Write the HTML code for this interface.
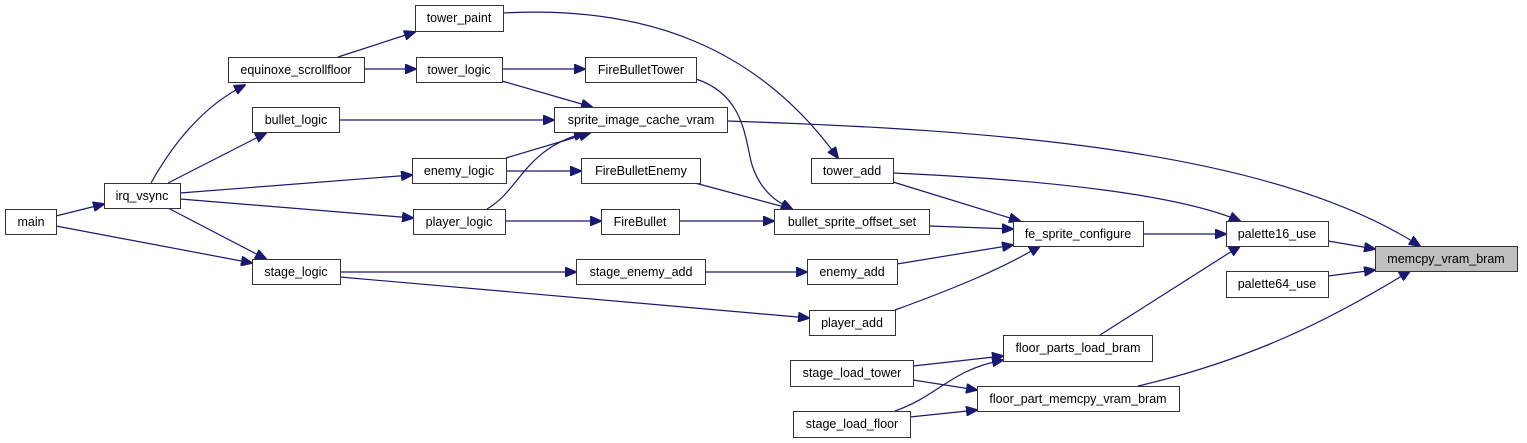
<!DOCTYPE html>
<html><head><meta charset="utf-8"><style>
html,body{margin:0;padding:0;background:#fff;}
svg{display:block;}
text{font-family:"Liberation Sans",Arial,sans-serif;font-size:12.5px;fill:#000;}
</style></head><body>
<svg width="1527" height="443" viewBox="0 0 1527 443" xmlns="http://www.w3.org/2000/svg">
<defs>
<marker id="a" markerWidth="12" markerHeight="10" refX="11" refY="5" orient="auto" markerUnits="userSpaceOnUse">
<path d="M0,0 L12,5 L0,10 Z" fill="#191970" stroke="#191970"/>
</marker>
</defs>
<g fill="none" stroke="#191970" stroke-width="1.2" marker-end="url(#a)">
<path d="M56,216 L104,204"/>
<path d="M56,226 L252,263"/>
<path d="M151,183 C175,140 205,105 245,85"/>
<path d="M168,183 L266,133"/>
<path d="M180,193 L412,175"/>
<path d="M180,199 L413,218"/>
<path d="M168,208 L266,259"/>
<path d="M338,57 L415,32"/>
<path d="M364,69 L416,69"/>
<path d="M503,13 C650,5 760,50 838,158"/>
<path d="M502,69 L585,69"/>
<path d="M502,81 L592,107"/>
<path d="M339,120 L554,120"/>
<path d="M506,158 L590,133"/>
<path d="M506,171 L581,171"/>
<path d="M487,209 C520,190 525,148 585,133"/>
<path d="M505,221 L601,221"/>
<path d="M340,272 L576,272"/>
<path d="M340,277 L809,318"/>
<path d="M696,79 C745,95 745,140 752,165 C762,195 780,203 792,209"/>
<path d="M695,183 L792,209"/>
<path d="M679,221 L774,221"/>
<path d="M705,272 L807,272"/>
<path d="M727,121 C1000,130 1270,150 1420,246"/>
<path d="M893,182 L1020,221"/>
<path d="M893,173 C1050,180 1180,195 1240,221"/>
<path d="M929,226 L1013,229"/>
<path d="M897,264 L1013,245"/>
<path d="M895,310 C950,290 1000,270 1040,246"/>
<path d="M1143,234 L1226,234"/>
<path d="M1100,335 L1240,246"/>
<path d="M1328,241 L1375,249"/>
<path d="M1328,276 L1375,270"/>
<path d="M1138,386 C1250,360 1330,320 1410,271"/>
<path d="M913,366 L1003,356"/>
<path d="M913,380 L977,390"/>
<path d="M895,411 C940,395 950,370 1003,360"/>
<path d="M910,417 L977,410"/>
</g>
<g stroke="#333" stroke-width="1" fill="#fff">
<rect x="5.5" y="209.5" width="51" height="25"/>
<rect x="104.5" y="183.5" width="76" height="25"/>
<rect x="228.5" y="57.5" width="136" height="25"/>
<rect x="252.5" y="107.5" width="87" height="25"/>
<rect x="252.5" y="259.5" width="88" height="25"/>
<rect x="415.5" y="5.5" width="88" height="26"/>
<rect x="416.5" y="57.5" width="86" height="25"/>
<rect x="412.5" y="158.5" width="94" height="25"/>
<rect x="413.5" y="209.5" width="92" height="25"/>
<rect x="585.5" y="57.5" width="111" height="25"/>
<rect x="554.5" y="107.5" width="173" height="25"/>
<rect x="581.5" y="158.5" width="119" height="25"/>
<rect x="601.5" y="209.5" width="78" height="25"/>
<rect x="576.5" y="259.5" width="129" height="25"/>
<rect x="811.5" y="158.5" width="82" height="25"/>
<rect x="774.5" y="209.5" width="155" height="25"/>
<rect x="807.5" y="259.5" width="90" height="25"/>
<rect x="809.5" y="310.5" width="86" height="25"/>
<rect x="790.5" y="360.5" width="123" height="26"/>
<rect x="793.5" y="411.5" width="117" height="26"/>
<rect x="1013.5" y="221.5" width="130" height="25"/>
<rect x="1226.5" y="221.5" width="102" height="25"/>
<rect x="1226.5" y="271.5" width="102" height="26"/>
<rect x="1375.5" y="246.5" width="142" height="25" fill="#bfbfbf"/>
<rect x="1003.5" y="335.5" width="149" height="26"/>
<rect x="977.5" y="386.5" width="202" height="25"/>
</g>
<g text-anchor="middle">
<text x="31" y="226">main</text>
<text x="142" y="200">irq_vsync</text>
<text x="296" y="74">equinoxe_scrollfloor</text>
<text x="296" y="124">bullet_logic</text>
<text x="296" y="276">stage_logic</text>
<text x="459" y="22">tower_paint</text>
<text x="459" y="74">tower_logic</text>
<text x="459" y="175">enemy_logic</text>
<text x="459" y="226">player_logic</text>
<text x="641" y="74">FireBulletTower</text>
<text x="641" y="124">sprite_image_cache_vram</text>
<text x="641" y="175">FireBulletEnemy</text>
<text x="640" y="226">FireBullet</text>
<text x="641" y="276">stage_enemy_add</text>
<text x="852" y="175">tower_add</text>
<text x="852" y="226">bullet_sprite_offset_set</text>
<text x="852" y="276">enemy_add</text>
<text x="852" y="327">player_add</text>
<text x="852" y="377">stage_load_tower</text>
<text x="852" y="428">stage_load_floor</text>
<text x="1078" y="238">fe_sprite_configure</text>
<text x="1277" y="238">palette16_use</text>
<text x="1277" y="288">palette64_use</text>
<text x="1446" y="263">memcpy_vram_bram</text>
<text x="1078" y="352">floor_parts_load_bram</text>
<text x="1078" y="403">floor_part_memcpy_vram_bram</text>
</g>
</svg>
</body></html>
